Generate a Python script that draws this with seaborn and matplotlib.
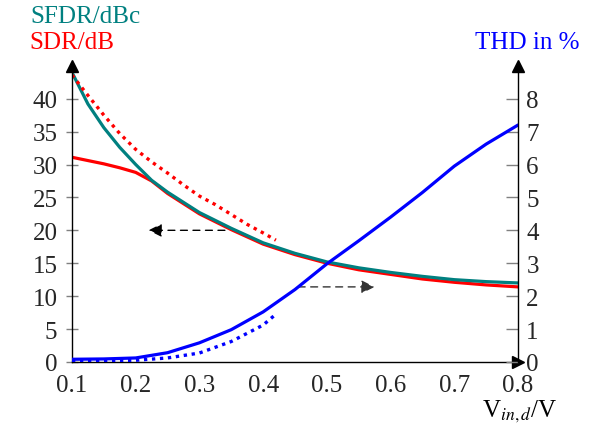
import numpy as np
import pandas as pd
import matplotlib
matplotlib.use('Agg')
import matplotlib.pyplot as plt
import seaborn as sn

# data
x_main = [0.1, 0.125, 0.15, 0.175, 0.2, 0.225, 0.25, 0.3, 0.35, 0.4, 0.45, 0.5, 0.55, 0.6, 0.65, 0.7, 0.75, 0.8]
sfdr = [44.0, 39.2, 35.6, 32.6, 30.0, 27.6, 25.8, 22.7, 20.3, 18.1, 16.5, 15.2, 14.3, 13.6, 13.0, 12.5, 12.2, 12.0]
sdr = [31.1, 30.6, 30.1, 29.5, 28.8, 27.5, 25.6, 22.5, 20.1, 17.9, 16.3, 15.0, 14.0, 13.3, 12.6, 12.1, 11.7, 11.4]

x_sdr_dot = [0.1, 0.125, 0.15, 0.175, 0.2, 0.225, 0.25, 0.275, 0.3, 0.325, 0.35, 0.375, 0.4, 0.42]
sdr_dot = [43.6, 40.5, 37.5, 34.7, 32.3, 30.4, 28.7, 26.9, 25.2, 23.9, 22.4, 20.9, 19.6, 18.5]

x_thd = [0.1, 0.15, 0.2, 0.25, 0.3, 0.35, 0.4, 0.45, 0.5, 0.55, 0.6, 0.65, 0.7, 0.75, 0.8]
thd = [0.08, 0.09, 0.12, 0.28, 0.58, 0.98, 1.52, 2.2, 2.98, 3.68, 4.4, 5.15, 5.95, 6.62, 7.2]

x_thd_dot = [0.1, 0.15, 0.2, 0.25, 0.3, 0.35, 0.4, 0.42]
thd_dot = [0.03, 0.03, 0.05, 0.12, 0.27, 0.62, 1.12, 1.45]

left_ticks = [0, 5, 10, 15, 20, 25, 30, 35, 40]
right_ticks = [0, 1, 2, 3, 4, 5, 6, 7, 8]
x_ticks = [0.1, 0.2, 0.3, 0.4, 0.5, 0.6, 0.7, 0.8]

teal = '#008080'
fs = 18
lw = 2.3
dotted = (0, (1, 1.4))

sn.set_style('white')
plt.rcParams['font.family'] = ['Liberation Serif', 'DejaVu Serif']
plt.rcParams['mathtext.fontset'] = 'stix'

fig = plt.figure(figsize=(5.92, 4.31), dpi=100)
ax = fig.add_axes([0.1216, 0.158, 0.7534, 0.687])
ax2 = ax.twinx()

main_df = pd.DataFrame({'x': x_main, 'sfdr': sfdr, 'sdr': sdr})
sn.lineplot(data=main_df, x='x', y='sdr', ax=ax, color='red', lw=lw)
sn.lineplot(data=main_df, x='x', y='sfdr', ax=ax, color=teal, lw=lw)
dot_df = pd.DataFrame({'x': x_sdr_dot, 'y': sdr_dot})
sn.lineplot(data=dot_df, x='x', y='y', ax=ax, color='red', lw=2.4, linestyle=dotted)

thd_df = pd.DataFrame({'x': x_thd, 'y': thd})
sn.lineplot(data=thd_df, x='x', y='y', ax=ax2, color='blue', lw=lw)
thd_dot_df = pd.DataFrame({'x': x_thd_dot, 'y': thd_dot})
sn.lineplot(data=thd_dot_df, x='x', y='y', ax=ax2, color='blue', lw=2.4, linestyle=dotted)

ax.set_xlim(0.1, 0.8)
ax.set_ylim(0, 45)
ax2.set_ylim(0, 9)
ax.set_xticks(x_ticks)
ax.set_xticklabels(['%.1f' % v for v in x_ticks])
ax.set_yticks(left_ticks)
ax2.set_yticks(right_ticks)
ax.set_xlabel('')
ax.set_ylabel('')
ax2.set_ylabel('')

for a in (ax, ax2):
    a.spines['top'].set_visible(False)
    for s in ('left', 'right', 'bottom'):
        a.spines[s].set_color('black')
        a.spines[s].set_linewidth(1.0)
ax.spines['right'].set_visible(False)
ax2.spines['left'].set_visible(False)
ax2.spines['bottom'].set_visible(False)

ax.tick_params(axis='both', direction='inout', length=9, width=1.0, color='gray', labelsize=fs, pad=4)
ax.tick_params(axis='y', pad=6)
ax2.tick_params(axis='y', direction='in', length=9, width=1.0, color='gray', labelsize=fs, pad=6)

# arrow heads at the axis ends
ax.plot(0, 1, '^k', ms=8, transform=ax.transAxes, clip_on=False)
ax.plot(1, 0, '>k', ms=8, transform=ax.transAxes, clip_on=False)
ax2.plot(1, 1, '^k', ms=8, transform=ax2.transAxes, clip_on=False)

# dashed hint arrows
ax.annotate('', xy=(0.22, 20), xytext=(0.34, 20),
            arrowprops=dict(arrowstyle='-|>', color='black', lw=1.0, linestyle=(0, (5, 4)),
                            mutation_scale=20, shrinkA=0, shrinkB=0))
ax.annotate('', xy=(0.575, 11.4), xytext=(0.455, 11.4),
            arrowprops=dict(arrowstyle='-|>', color='#333333', lw=1.0, linestyle=(0, (5, 4)),
                            mutation_scale=20, shrinkA=0, shrinkB=0))

fig.text(85 / 592, 1 - 17 / 431, 'SFDR/dBc', color=teal, fontsize=fs, ha='center', va='center')
fig.text(72 / 592, 1 - 43 / 431, 'SDR/dB', color='red', fontsize=fs, ha='center', va='center')
fig.text(527 / 592, 1 - 43 / 431, 'THD in %', color='blue', fontsize=fs, ha='center', va='center')
fig.text(520 / 592, 1 - 412 / 431, r'V$_{in,d}$/V', color='black', fontsize=fs, ha='center', va='center')

fig.savefig('out.png', dpi=100)
